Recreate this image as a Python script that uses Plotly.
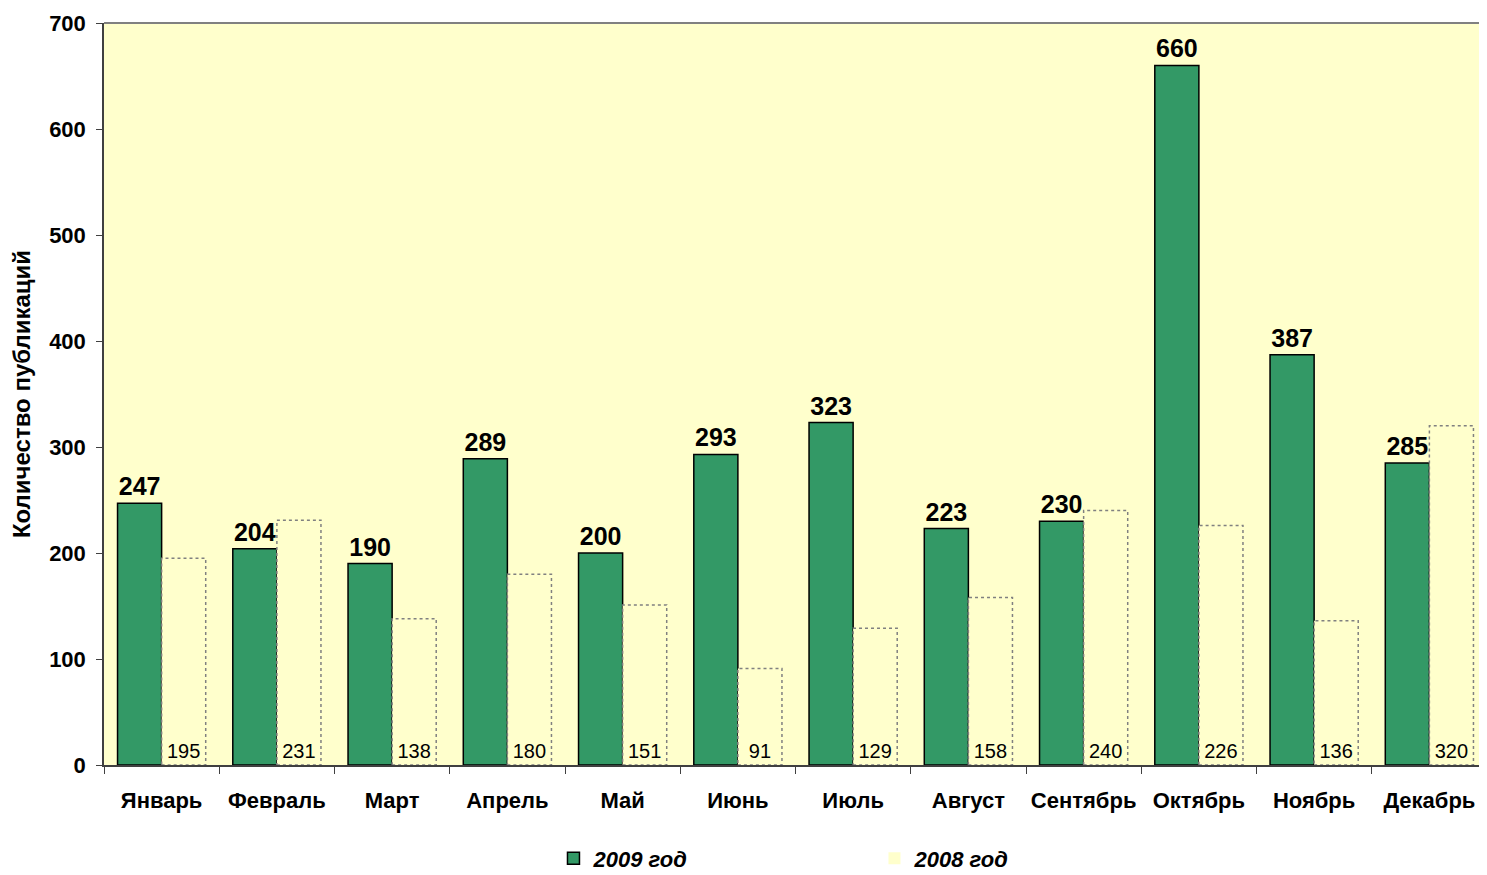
import plotly.graph_objects as go

months = ["Январь", "Февраль", "Март", "Апрель", "Май", "Июнь", "Июль",
          "Август", "Сентябрь", "Октябрь", "Ноябрь", "Декабрь"]
values_2009 = [247, 204, 190, 289, 200, 293, 323, 223, 230, 660, 387, 285]
values_2008 = [195, 231, 138, 180, 151, 91, 129, 158, 240, 226, 136, 320]
y_ticks = [0, 100, 200, 300, 400, 500, 600, 700]

FONT = "Arial, Liberation Sans, sans-serif"
BG = "#FFFFCC"
GREEN = "#339966"
BARGAP = 0.235

fig = go.Figure()
fig.add_trace(go.Bar(
    name="2009 год", x=months, y=values_2009,
    marker=dict(color=GREEN, line=dict(color="#000000", width=1.5)),
    text=[str(v) for v in values_2009], textposition="outside",
    textfont=dict(family=FONT, size=25, color="#000000", weight="bold"),
    cliponaxis=False,
))
fig.add_trace(go.Bar(
    name="2008 год", x=months, y=values_2008,
    marker=dict(color=BG, line=dict(color="#808080", width=0)),
    text=[str(v) for v in values_2008], textposition="inside",
    insidetextanchor="start", textangle=0,
    textfont=dict(family=FONT, size=20, color="#000000"),
))

# dashed outlines for 2008 bars (derived from data + bar geometry)
w = (1 - BARGAP) / 2
for i, v in enumerate(values_2008):
    fig.add_shape(type="rect", xref="x", yref="y", x0=i, x1=i + w, y0=0, y1=v,
                  line=dict(color="#808080", width=1.5, dash="3px,3px"),
                  fillcolor="rgba(0,0,0,0)", layer="above")

# top border of plot area
fig.add_shape(type="line", xref="paper", yref="paper", x0=0, x1=1, y0=1, y1=1,
              line=dict(color="#808080", width=2))

fig.update_layout(
    width=1479, height=867,
    margin=dict(l=96, r=0, t=15, b=110, autoexpand=False),
    paper_bgcolor="#FFFFFF", plot_bgcolor=BG,
    barmode="group", bargap=BARGAP, bargroupgap=0,
    font=dict(family=FONT, color="#000000"),
    showlegend=True,
    legend=dict(orientation="h", x=0.325, xanchor="left", y=-0.126, yanchor="middle",
                xref="paper", yref="paper",
                font=dict(family=FONT, size=22, style="italic", weight="bold"),
                entrywidth=276, entrywidthmode="pixels",
                bgcolor="rgba(0,0,0,0)"),
)
fig.update_xaxes(
    type="category", tickson="boundaries", ticks="outside", ticklen=7,
    tickcolor="#404040", showline=True, linecolor="#404040", linewidth=1.5,
    tickfont=dict(family=FONT, size=22, weight="bold"), showgrid=False,
    range=[-0.5, 11.5], ticklabelstandoff=15, tickangle=0,
)
fig.update_yaxes(
    range=[0, 700], tickvals=y_ticks, ticks="outside", ticklen=6,
    tickcolor="#404040", showline=True, linecolor="#404040", linewidth=1.5,
    tickfont=dict(family=FONT, size=22, weight="bold"), showgrid=False,
    zeroline=False, ticklabelstandoff=6,
    title=dict(text="Количество публикаций", font=dict(family=FONT, size=24, weight="bold"),
               standoff=14),
)

fig.write_html("out.html")
